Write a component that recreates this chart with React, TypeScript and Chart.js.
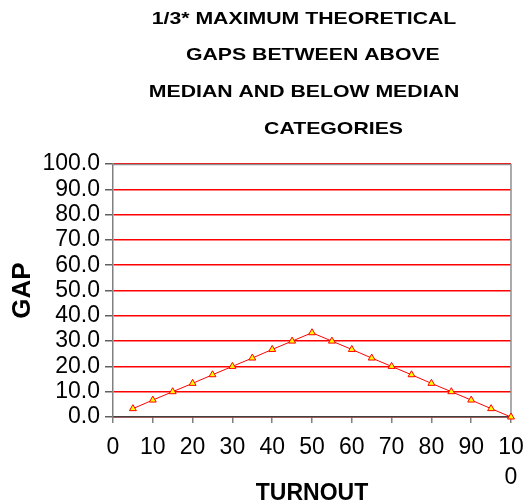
import React, { useEffect, useRef } from "react";
import { Chart, registerables } from "chart.js";

Chart.register(...registerables);

const TITLE_LINES = [
  "1/3* MAXIMUM THEORETICAL",
  "   GAPS BETWEEN ABOVE",
  "MEDIAN AND BELOW MEDIAN",
  "          CATEGORIES",
];
const X_TITLE = "TURNOUT";
const Y_TITLE = "GAP";
const TURNOUT = [5, 10, 15, 20, 25, 30, 35, 40, 45, 50, 55, 60, 65, 70, 75, 80, 85, 90, 95, 100];
const GAP = [3.3, 6.7, 10.0, 13.3, 16.7, 20.0, 23.3, 26.7, 30.0, 33.3, 30.0, 26.7, 23.3, 20.0, 16.7, 13.3, 10.0, 6.7, 3.3, 0.0];

const FONT = "'Liberation Sans', Arial, sans-serif";

const titlePlugin = {
  id: "multiTitle",
  afterDraw(chart: any) {
    const ctx = chart.ctx;
    const area = chart.chartArea;
    const sx = 1.25;
    ctx.save();
    ctx.font = `bold 17px ${FONT}`;
    ctx.fillStyle = "#000";
    ctx.textAlign = "center";
    ctx.textBaseline = "middle";
    const cx = (area.left + area.right) / 2 - 8;
    ctx.scale(sx, 1);
    TITLE_LINES.forEach((line, i) => {
      ctx.fillText(line, cx / sx, 19 + i * 36.8);
    });
    ctx.restore();
  },
};

// gray top and right frame of the plot area
const framePlugin = {
  id: "frame",
  beforeDatasetsDraw(chart: any) {
    const { ctx, chartArea: a } = chart;
    ctx.save();
    ctx.strokeStyle = "#909090";
    ctx.lineWidth = 1.5;
    ctx.beginPath();
    ctx.moveTo(a.left, a.top + 0.5);
    ctx.lineTo(a.right, a.top + 0.5);
    ctx.moveTo(a.right, a.top);
    ctx.lineTo(a.right, a.bottom);
    ctx.stroke();
    ctx.restore();
  },
};

export default function App() {
  const ref = useRef<HTMLCanvasElement>(null);
  useEffect(() => {
    if (!ref.current) return;
    const chart = new Chart(ref.current, {
      type: "line",
      data: {
        datasets: [
          {
            data: TURNOUT.map((x, i) => ({ x, y: GAP[i] })),
            borderColor: "#ff0000",
            borderWidth: 1,
            backgroundColor: "#ffff00",
            pointStyle: "triangle",
            pointRadius: 4,
            pointBorderColor: "#ff0000",
            pointBackgroundColor: "#ffff00",
            pointBorderWidth: 1,
            tension: 0,
            clip: false,
          },
        ],
      },
      options: {
        animation: false,
        responsive: false,
        maintainAspectRatio: false,
        layout: { padding: { top: 164, right: 15, left: 0, bottom: 0 } },
        plugins: {
          legend: { display: false },
          tooltip: { enabled: false },
          title: { display: false },
        },
        scales: {
          x: {
            type: "linear",
            min: 0,
            max: 100,
            afterFit: (s: any) => {
              s.height = 87;
              s.paddingLeft = 0;
              s.paddingRight = 0;
            },
            ticks: {
              stepSize: 10,
              color: "#000",
              font: { family: FONT, size: 23, lineHeight: 1.3 },
              maxRotation: 0,
              autoSkip: false,
              padding: 10,
              callback: (v: any) => (v === 100 ? ["10", "0"] : String(v)),
            },
            grid: {
              drawOnChartArea: false,
              tickColor: "#808080",
              tickLength: 6,
              lineWidth: 1.5,
            },
            border: { color: "#404040", width: 1.5 },
            title: {
              display: true,
              text: X_TITLE,
              color: "#000",
              font: { family: FONT, size: 23, weight: "bold" },
              padding: { top: 0, bottom: -3 },
            },
          },
          y: {
            min: 0,
            max: 100,
            afterFit: (s: any) => {
              s.width = 113;
              s.paddingTop = 0;
              s.paddingBottom = 0;
            },
            ticks: {
              stepSize: 10,
              autoSkip: false,
              color: "#000",
              font: { family: FONT, size: 23 },
              padding: 5,
              callback: (v: any) => Number(v).toFixed(1),
            },
            grid: {
              color: "#ff0000",
              tickColor: "#606060",
              tickLength: 8,
              lineWidth: 1.5,
            },
            border: { color: "#808080", width: 1.5 },
            title: {
              display: true,
              text: Y_TITLE,
              color: "#000",
              font: { family: FONT, size: 26, weight: "bold" },
              padding: { top: 7, bottom: 0 },
            },
          },
        },
      },
      plugins: [titlePlugin, framePlugin],
    } as any);
    return () => chart.destroy();
  }, []);
  return (
    <div style={{ position: "fixed", left: 0, top: 0, width: 526, height: 504, background: "#fff" }}>
      <canvas ref={ref} width={526} height={504} style={{ width: 526, height: 504 }} />
    </div>
  );
}
